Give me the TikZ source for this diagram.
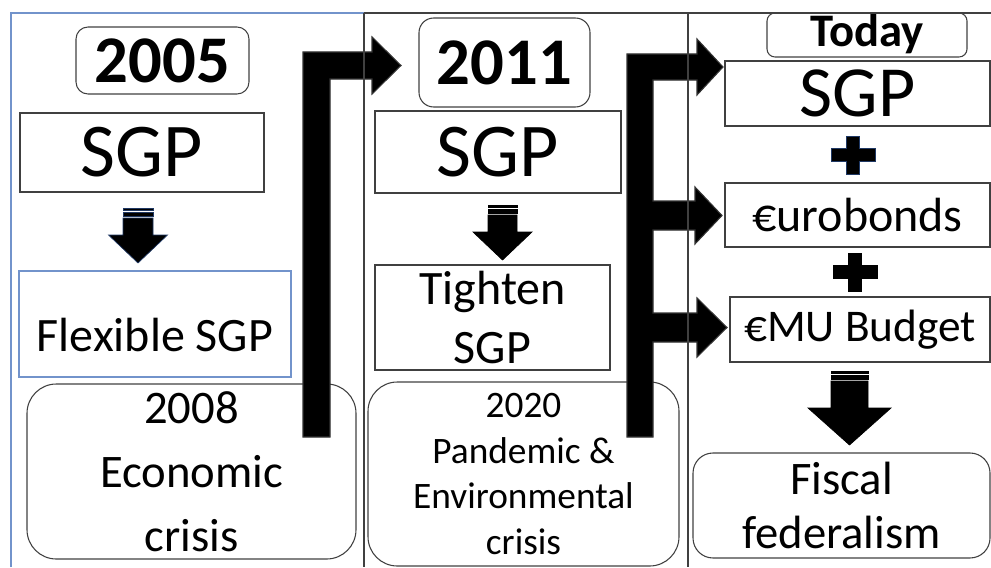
\documentclass[tikz,border=0pt]{standalone}
\usepackage{fontspec}
\setmainfont{Carlito}

\definecolor{frameblue}{RGB}{114,147,203}
\definecolor{navy}{RGB}{31,56,100}
\definecolor{edge}{RGB}{64,64,64}

\newcommand\pxu{0.75pt}
\newcommand\fsz[2]{\fontsize{#1}{#2}\selectfont}

\tikzset{
    box/.style={draw=edge, line width=0.8pt, inner sep=0pt, align=center},
    roundbox/.style={box, rounded corners=#1},
    bigarrow/.style={fill=black, draw=black!80, line width=0.8pt},
}

\begin{document}
\begin{tikzpicture}[x=0.75pt,y=-0.75pt]
    \useasboundingbox (0,0) rectangle (991,567);

    % 2005
    \node[roundbox=9pt, minimum width=173*\pxu, minimum height=67*\pxu, font=\bfseries\fsz{50}{60}] (yrA) at (162.5,60.5) {2005};
    \node[box, minimum width=244*\pxu, minimum height=79*\pxu, font=\fsz{57}{68}] (sgpA) at (142,152.5) {SGP};
    \node[box, draw=frameblue, minimum width=272*\pxu, minimum height=106*\pxu, text height=40.5pt, text depth=0pt, font=\fsz{36}{42}] (flexA) at (155,324) {Flexible SGP};
    \node[roundbox=22pt, minimum width=329*\pxu, minimum height=175*\pxu, font=\fsz{35}{48}] (crisisA) at (191.5,471.5) {2008\\Economic\\crisis};

    % 2011
    \node[roundbox=11pt, minimum width=171*\pxu, minimum height=89*\pxu, font=\bfseries\fsz{50}{60}] (yrB) at (504.5,62.5) {2011};
    \node[box, minimum width=246*\pxu, minimum height=82*\pxu, font=\fsz{57}{68}] (sgpB) at (498,152) {SGP};
    \node[box, minimum width=235*\pxu, minimum height=105*\pxu, font=\fsz{36}{44}] (tightB) at (492.5,317.5) {Tighten\\SGP};
    \node[roundbox=22pt, minimum width=311*\pxu, minimum height=184*\pxu, font=\fsz{28}{34.2}] (crisisB) at (523.5,474) {2020\\Pandemic \&\\Environmental\\crisis};

    % today
    \node[roundbox=6pt, minimum width=200*\pxu, minimum height=44*\pxu, text height=18pt, text depth=0pt, font=\bfseries\fsz{35}{40}] (yrC) at (867,35) {Today};
    \node[box, minimum width=265*\pxu, minimum height=65*\pxu, font=\fsz{54}{64}] (sgpC) at (857.5,93.5) {SGP};
    \node[box, minimum width=265*\pxu, minimum height=64*\pxu, font=\fsz{36}{42}] (euroC) at (857.5,215) {€urobonds};
    \node[box, minimum width=260*\pxu, minimum height=65*\pxu, font=\fsz{34}{42}] (budgetC) at (860,329.5) {€MU Budget};
    \node[roundbox=15pt, minimum width=297*\pxu, minimum height=105*\pxu, font=\fsz{35}{40.5}] (fiscalC) at (841.5,505.5) {Fiscal\\federalism};

    % down arrows
    \foreach \x/\t/\s/\h/\hy/\tp/\c in {138/208/15/29.5/235/263/navy, 502.5/205/14.5/29.5/232/260/black, 849.5/371/18.5/41.5/408/445/black}{
        \filldraw[fill=black, draw=\c, line width=0.5pt] (\x-\s,\t) rectangle (\x+\s,\t+2.5);
        \filldraw[fill=black, draw=\c, line width=0.5pt] (\x-\s,\t+4) rectangle (\x+\s,\t+8.5);
        \filldraw[fill=black, draw=\c, line width=0.5pt] (\x-\s,\t+10) -- (\x-\s,\hy) -- (\x-\h,\hy)
            -- (\x,\tp) -- (\x+\h,\hy) -- (\x+\s,\hy) -- (\x+\s,\t+10) -- cycle;
    }

    % plus signs
    \foreach \cx/\cy/\c in {853/155/navy, 855/272/black}
    \filldraw[fill=black, draw=\c, line width=0.6pt] (\cx-6.5,\cy-19) -- (\cx+6.5,\cy-19) -- (\cx+6.5,\cy-6.5)
        -- (\cx+22,\cy-6.5) -- (\cx+22,\cy+6.5) -- (\cx+6.5,\cy+6.5) -- (\cx+6.5,\cy+19) -- (\cx-6.5,\cy+19)
        -- (\cx-6.5,\cy+6.5) -- (\cx-22,\cy+6.5) -- (\cx-22,\cy-6.5) -- (\cx-6.5,\cy-6.5) -- cycle;

    % bent arrows
    \filldraw[bigarrow] (303,437) -- (303,52) -- (372,52) -- (372,37) -- (401,65.5)
        -- (372,94) -- (372,79) -- (330,79) -- (330,437) -- cycle;
    \filldraw[bigarrow] (627,437) -- (627,54) -- (697,54) -- (697,39) -- (723,67)
        -- (697,95) -- (697,80) -- (653,80) -- (653,201) -- (695,201) -- (695,187)
        -- (722,215.5) -- (695,244) -- (695,230) -- (653,230) -- (653,313)
        -- (697,313) -- (697,298) -- (727,327.5) -- (697,357) -- (697,342)
        -- (653,342) -- (653,437) -- cycle;

    % column lines
    \draw[frameblue, line width=0.9pt] (11,567) -- (11,13) -- (364,13);
    \draw[edge, line width=0.9pt] (364,13) -- (991,13);
    \draw[edge, line width=0.9pt] (364,13) -- (364,567);
    \draw[edge, line width=0.9pt] (688,13) -- (688,567);
\end{tikzpicture}
\end{document}
